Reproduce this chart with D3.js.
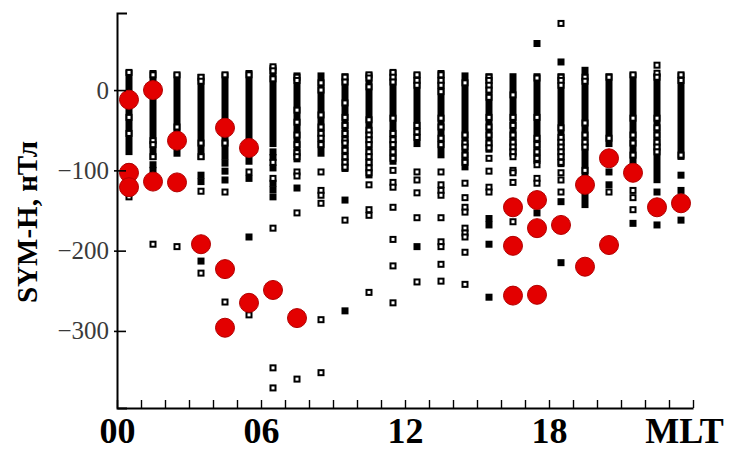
<!DOCTYPE html>
<html>
<head>
<meta charset="utf-8">
<script src="https://cdn.jsdelivr.net/npm/d3@7"></script>
<style>
  body { margin: 0; background: #fff; }
  svg { display: block; }
  .tickY text { font-family: "Liberation Serif", "Times New Roman", serif; font-size: 25px; fill: #3a3a3a; }
  .tickX text { font-family: "Liberation Serif", "Times New Roman", serif; font-size: 36px; font-weight: bold; fill: #000; }
  .axisTitle { font-family: "Liberation Serif", "Times New Roman", serif; font-size: 29px; font-weight: bold; }
</style>
</head>
<body>
<div id="chart"></div>
<script>
// MLT hour bins, one column per hour (centre of the bin)
let hours = d3.range(24).map(h => h + 0.5);

// dense part of every column (nT)
let bandTop = [25, 25, 22, 20, 22, 25, 31, 22, 22, 21, 22, 25, 22, 25, 22, 21, 21, 21, 21, 29, 21, 22, 21, 22];
let bandBottom = [-81, -87, -83, -87, -87, -93, -71, -90, -83, -102, -110, -93, -71, -85, -100, -78, -83, -92, -96, -147, -71, -96, -116, -87];

// open squares per column
let openSquares = [
  [22, -34, -54, -133],
  [19, -63, -68, -83, -192],
  [19, -46, -195],
  [16, 11, -66, -83, -126, -228],
  [19, -66, -127, -264],
  [19, -102, -280],
  [29, 24, 14, -90, -110, -172, -346, -371],
  [16, 12, -25, -40, -56, -68, -78, -83, -102, -107, -153, -360],
  [9, 0, -31, -46, -54, -60, -68, -102, -125, -131, -141, -286, -352],
  [16, 10, -16, -34, -44, -54, -62, -66, -75, -83, -90, -96, -162],
  [19, 15, 4, -37, -50, -56, -62, -68, -77, -83, -90, -97, -103, -118, -149, -156, -252],
  [22, 16, 10, -35, -54, -62, -68, -77, -85, -100, -115, -121, -146, -186, -219, -265],
  [19, 12, 6, -44, -52, -59, -102, -112, -128, -159, -239],
  [19, 12, 6, -2, -35, -46, -60, -68, -102, -118, -125, -131, -159, -189, -195, -217, -238],
  [9, -56, -66, -71, -81, -90, -116, -134, -146, -152, -172, -178, -183, -202, -242],
  [16, 12, 6, 0, -9, -34, -46, -56, -66, -72, -85, -101, -121, -127],
  [-6, -34, -44, -56, -65, -71, -77, -83, -100, -103, -115, -164],
  [15, -34, -60, -68, -77, -85, -93, -110, -116],
  [83, 16, 12, 6, -47, -59, -65, -71, -77, -83, -90, -103, -112, -127],
  [16, 11, -41, -56, -65, -71, -100],
  [16, -60, -127],
  [19, -35, -56, -66, -81, -125, -134, -149],
  [31, 21, 16, -35, -47, -56, -65, -71, -77],
  [19, 12, -81]
];

// filled squares per column
let filledSquares = [
  [-96, -103, -110, -118, -125],
  [-93, -100],
  [],
  [-106, -114, -213],
  [-91, -101, -112],
  [-110, -183],
  [-77, -84, -97, -116, -124, -133],
  [-122],
  [],
  [-137, -275],
  [],
  [],
  [-195],
  [],
  [],
  [-160, -168, -192, -258],
  [],
  [58, -137, -153],
  [35, -139, -215],
  [],
  [-102, -118],
  [-166],
  [-127, -168],
  [-106, -125, -162]
];

// red circles per column
let redDots = [
  [-12, -103, -121],
  [0, -114],
  [-63, -115],
  [-192],
  [-47, -223, -296],
  [-72, -265],
  [-249],
  [-284],
  [], [], [], [], [], [], [], [],
  [-146, -194, -256],
  [-137, -172, -255],
  [-168],
  [-118, -220],
  [-85, -193],
  [-103],
  [-146],
  [-141]
];

let yTicks = [0, -100, -200, -300];
let xTickLabels = {0: "00", 6: "06", 12: "12", 18: "18", 24: "MLT"};

let width = 731, height = 453;

let svg = d3.select("#chart")
  .append("svg")
  .attr("width", width)
  .attr("height", height);

let xScale = d3.scaleLinear().domain([0, 24]).range([117, 693]);
let yScale = d3.scaleLinear().domain([-396, 96]).range([408, 13]);

// flatten a per-column list into points
function points(lists) {
  let out = [];
  lists.forEach((vals, i) => vals.forEach(v => out.push({h: hours[i], v: v})));
  return out;
}

let sq = 7;

// dense bands
svg.append("g")
  .selectAll("rect")
  .data(hours)
  .enter()
  .append("rect")
  .attr("x", d => xScale(d) - sq / 2)
  .attr("width", sq)
  .attr("y", (d, i) => yScale(bandTop[i]))
  .attr("height", (d, i) => yScale(bandBottom[i]) - yScale(bandTop[i]))
  .attr("fill", "#000");

svg.append("g")
  .selectAll("rect")
  .data(points(filledSquares))
  .enter()
  .append("rect")
  .attr("x", d => xScale(d.h) - sq / 2)
  .attr("y", d => yScale(d.v) - sq / 2)
  .attr("width", sq)
  .attr("height", sq)
  .attr("fill", "#000");

svg.append("g")
  .selectAll("rect")
  .data(points(openSquares))
  .enter()
  .append("rect")
  .attr("x", d => xScale(d.h) - sq / 2 + 1)
  .attr("y", d => yScale(d.v) - sq / 2 + 1)
  .attr("width", sq - 2)
  .attr("height", sq - 2)
  .attr("fill", "#fff")
  .attr("stroke", "#000")
  .attr("stroke-width", 2);

svg.append("g")
  .selectAll("circle")
  .data(points(redDots))
  .enter()
  .append("circle")
  .attr("cx", d => xScale(d.h))
  .attr("cy", d => yScale(d.v))
  .attr("r", 9.5)
  .attr("fill", "#e30000")
  .attr("stroke", "#b20000")
  .attr("stroke-width", 1);

// axes
let yAxis = svg.append("g")
  .attr("class", "tickY")
  .attr("transform", "translate(117,0)")
  .call(d3.axisLeft(yScale)
    .tickValues(yTicks)
    .tickSizeInner(-9)
    .tickSizeOuter(-10)
    .tickPadding(8)
    .tickFormat(d => d === 0 ? "0" : "\u2212" + Math.abs(d)));

yAxis.select(".domain").attr("stroke", "#000").attr("stroke-width", 2);
yAxis.selectAll(".tick line").attr("x1", -3).attr("stroke-width", 1.6);

let xAxis = svg.append("g")
  .attr("class", "tickX")
  .attr("transform", "translate(0,408)")
  .call(d3.axisBottom(xScale)
    .tickValues(d3.range(0, 25))
    .tickSizeInner(-8)
    .tickSizeOuter(0)
    .tickPadding(9)
    .tickFormat(d => xTickLabels[d] || ""));

xAxis.select(".domain").attr("stroke", "#000").attr("stroke-width", 2);
xAxis.selectAll(".tick line").attr("stroke-width", 1.4);

// the unit label at the end of the axis sits a little left of the last tick
xAxis.selectAll(".tick text")
  .filter(d => d === 24)
  .attr("dx", -9);

svg.append("text")
  .attr("class", "axisTitle")
  .attr("transform", "translate(37,222) rotate(-90)")
  .attr("text-anchor", "middle")
  .text("SYM-H, нТл");
</script>
</body>
</html>
